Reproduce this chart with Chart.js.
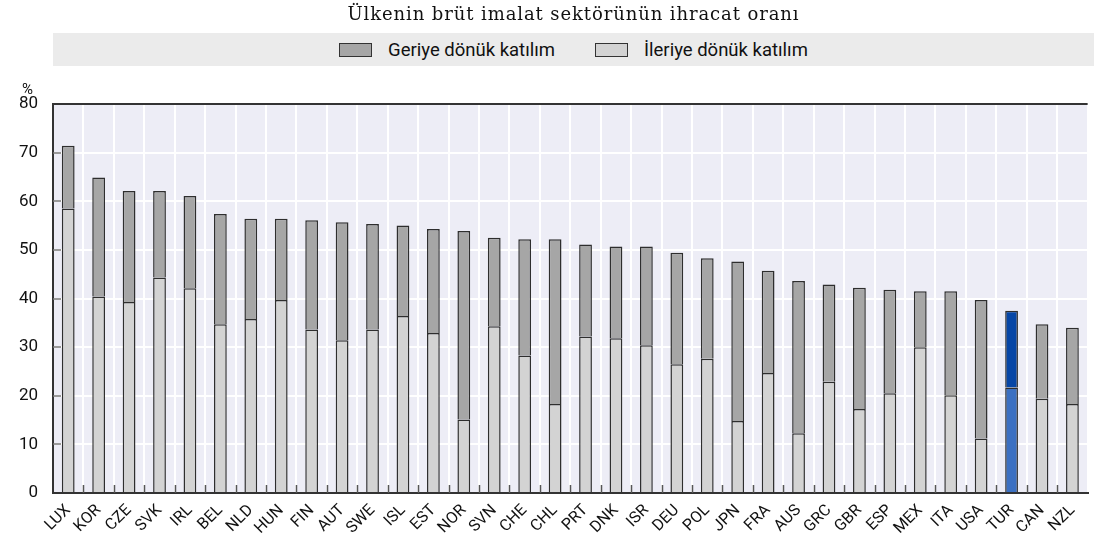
<!DOCTYPE html>
<html>
<head>
<meta charset="utf-8">
<script src="https://cdn.jsdelivr.net/npm/chart.js@4/dist/chart.umd.min.js"></script>
<style>
  html, body { margin: 0; padding: 0; background: #fff; }
  #wrap { position: relative; width: 1094px; height: 543px; overflow: hidden; }
  #c { position: absolute; left: 0; top: 0; }
  #title { position: absolute; left: 53px; width: 1041px; top: 3px; text-align: center;
           font-family: "DejaVu Serif", "Liberation Serif", serif; font-size: 18px; letter-spacing: 0.9px; color: #111; }
  #legend { position: absolute; left: 53px; top: 33px; width: 1041px; height: 33px; background: #ebebeb;
            display: flex; justify-content: center; align-items: center;
            font-family: Roboto, "Liberation Sans", sans-serif; font-size: 18.5px; color: #111; }
  .item { display: flex; align-items: center; margin: 0 20px; }
  .sw { width: 31px; height: 12px; border: 1px solid #333; margin-right: 16px; }
  #unit { position: absolute; left: 22px; top: 80px; font-family: Roboto, sans-serif; font-size: 15px; color: #111; }
</style>
</head>
<body>
<div id="wrap">
  <canvas id="c" width="1094" height="543"></canvas>
  <div id="title">Ülkenin brüt imalat sektörünün ihracat oranı</div>
  <div id="legend"></div>
  <div id="unit">%</div>
</div>
<script>
const categories = ["LUX","KOR","CZE","SVK","IRL","BEL","NLD","HUN","FIN","AUT","SWE","ISL","EST","NOR","SVN","CHE","CHL","PRT","DNK","ISR","DEU","POL","JPN","FRA","AUS","GRC","GBR","ESP","MEX","ITA","USA","TUR","CAN","NZL"];
const forwardParticipation = [58.5,40.4,39.3,44.3,42.1,34.7,35.8,39.7,33.6,31.4,33.6,36.4,32.9,15.1,34.3,28.3,18.3,32.2,31.8,30.4,26.5,27.6,14.8,24.7,12.3,22.9,17.3,20.5,30.0,20.1,11.2,21.7,19.4,18.3];
const backwardParticipation = [12.9,24.5,22.8,17.8,19.0,22.7,20.6,16.7,22.5,24.3,21.7,18.6,21.4,38.8,18.2,23.9,33.9,18.9,18.9,20.3,22.9,20.7,32.8,21.0,31.3,20.0,24.9,21.3,11.5,21.4,28.5,15.8,15.3,15.7];
const seriesNames = ["Geriye dönük katılım", "İleriye dönük katılım"];
const yTicks = [0,10,20,30,40,50,60,70,80];
const highlight = "TUR";

const colForward = "#d3d3d3", colBackward = "#a6a6a6";
const colForwardHi = "#3b70c2", colBackward_Hi = "#0646a6";
const borderCol = "#2e2e2e";

// HTML legend
const legend = document.getElementById('legend');
[[seriesNames[0], colBackward],[seriesNames[1], colForward]].forEach(([name, col]) => {
  const it = document.createElement('div'); it.className = 'item';
  const sw = document.createElement('div'); sw.className = 'sw'; sw.style.background = col;
  const tx = document.createElement('span'); tx.textContent = name;
  it.appendChild(sw); it.appendChild(tx); legend.appendChild(it);
});

const plotBg = {
  id: 'plotBg',
  beforeDraw(chart) {
    const {ctx, chartArea: a} = chart;
    ctx.save(); ctx.fillStyle = '#ededf6';
    ctx.fillRect(a.left, a.top, a.right - a.left, a.bottom - a.top);
    ctx.restore();
  },
  beforeDatasetsDraw(chart) {
    const {ctx, chartArea: a, scales} = chart;
    ctx.save(); ctx.strokeStyle = '#777'; ctx.lineWidth = 1.5;
    yTicks.forEach(v => {
      if (v === 0 || v === 80) return;
      const y = Math.round(scales.y.getPixelForValue(v));
      ctx.beginPath(); ctx.moveTo(a.left, y); ctx.lineTo(a.left + 8, y); ctx.stroke();
    });
    ctx.strokeStyle = '#555';
    for (let i = 0; i < categories.length - 1; i++) {
      const x = Math.round((scales.x.getPixelForValue(i) + scales.x.getPixelForValue(i + 1)) / 2) + 0.5;
      ctx.beginPath(); ctx.moveTo(x, a.bottom); ctx.lineTo(x, a.bottom - 8); ctx.stroke();
    }
    ctx.restore();
  },
  afterDraw(chart) {
    const {ctx, chartArea: a} = chart;
    ctx.save(); ctx.strokeStyle = '#333'; ctx.lineWidth = 2;
    ctx.beginPath(); ctx.moveTo(a.left - 1, a.top); ctx.lineTo(a.right, a.top); ctx.stroke();
    ctx.restore();
  }
};

new Chart(document.getElementById('c'), {
  type: 'bar',
  data: {
    labels: categories,
    datasets: [
      { label: seriesNames[1], data: forwardParticipation,
        backgroundColor: categories.map(c => c === highlight ? colForwardHi : colForward),
        borderColor: borderCol, borderWidth: 1.5 },
      { label: seriesNames[0], data: backwardParticipation,
        backgroundColor: categories.map(c => c === highlight ? colBackward_Hi : colBackward),
        borderColor: borderCol, borderWidth: 1.5 }
    ]
  },
  options: {
    responsive: false, animation: false, devicePixelRatio: 1,
    layout: { padding: { top: 104, right: 0, left: 0, bottom: 0 } },
    datasets: { bar: { barPercentage: 0.42, categoryPercentage: 1 } },
    plugins: { legend: { display: false }, title: { display: false }, tooltip: { enabled: false } },
    scales: {
      x: {
        stacked: true,
        grid: { offset: true, color: '#ffffff', lineWidth: 2, drawTicks: false },
        border: { color: '#333', width: 2 },
        ticks: { autoSkip: false, minRotation: 45, maxRotation: 45, padding: 8, color: '#111',
                 font: { family: 'Roboto, sans-serif', size: 16 } },
        afterFit(s) { s.height = 50; }
      },
      y: {
        stacked: true, min: 0, max: 80,
        afterBuildTicks(s) { s.ticks = yTicks.map(v => ({ value: v })); },
        grid: { color: '#ffffff', lineWidth: 2, drawTicks: false },
        border: { color: '#333', width: 2 },
        ticks: { padding: 15, color: '#111', font: { family: 'Roboto, sans-serif', size: 17 } },
        afterFit(s) { s.width = 53; }
      }
    }
  },
  plugins: [plotBg]
});
</script>
</body>
</html>
